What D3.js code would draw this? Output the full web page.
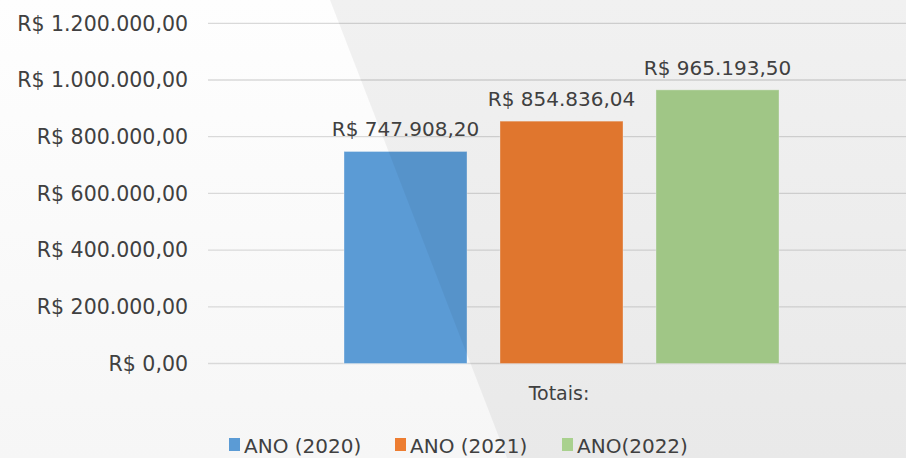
<!DOCTYPE html>
<html>
<head>
<meta charset="utf-8">
<script src="https://cdn.jsdelivr.net/npm/d3@7"></script>
<style>
  body { margin: 0; }
  svg { display: block; font-family: "DejaVu Sans", sans-serif; }
</style>
</head>
<body>
<div id="chart"></div>
<script>
// data
var category = "Totais:";
var series = ["ANO (2020)", "ANO (2021)", "ANO(2022)"];
var values = [747908.20, 854836.04, 965193.50];
var colors = ["#5b9bd5", "#ed7d31", "#a9d18e"];
var yTicks = [0, 200000, 400000, 600000, 800000, 1000000, 1200000];

var W = 906, H = 458;
var plot = {left: 208, right: 906, top: 23.3, bottom: 363.5};

var svg = d3.select("#chart")
    .append("svg")
    .attr("width", W)
    .attr("height", H);

var defs = svg.append("defs");
var bg = defs.append("linearGradient")
    .attr("id", "bg")
    .attr("x1", 0).attr("y1", 0).attr("x2", 0).attr("y2", 1);
bg.append("stop").attr("offset", "0%").attr("stop-color", "#fefefe");
bg.append("stop").attr("offset", "100%").attr("stop-color", "#f6f6f6");

svg.append("rect")
    .attr("width", W)
    .attr("height", H)
    .attr("fill", "url(#bg)");

var fmt = d3.formatLocale({decimal: ",", thousands: ".", grouping: [3], currency: ["R$ ", ""]})
    .format("$,.2f");

var y = d3.scaleLinear()
    .domain([0, 1200000])
    .range([plot.bottom, plot.top]);

// gridlines
svg.append("g")
    .selectAll("line")
    .data(yTicks)
    .enter()
    .append("line")
    .attr("x1", plot.left)
    .attr("x2", plot.right)
    .attr("y1", d => y(d))
    .attr("y2", d => y(d))
    .attr("stroke", "#d9d9d9")
    .attr("stroke-width", 1.3);

// y labels
svg.append("g")
    .selectAll("text")
    .data(yTicks)
    .enter()
    .append("text")
    .attr("x", 188)
    .attr("y", d => y(d))
    .attr("dy", "0.36em")
    .style("text-anchor", "end")
    .style("font-size", "20.5px")
    .style("fill", "#404040")
    .text(d => fmt(d));

// bars in the one category
var x = d3.scaleBand()
    .domain(series)
    .range([327.5, 795.5])
    .paddingInner(0.2115)
    .paddingOuter(0.1058);

svg.append("g")
    .selectAll("rect")
    .data(values)
    .enter()
    .append("rect")
    .attr("x", (d, i) => x(series[i]))
    .attr("width", x.bandwidth())
    .attr("y", d => y(d))
    .attr("height", d => y(0) - y(d))
    .attr("fill", (d, i) => colors[i])
    .attr("stroke", "#ffffff")
    .attr("stroke-opacity", 0.35)
    .attr("stroke-width", 1);

// the diagonal shade over the right part
svg.append("polygon")
    .attr("points", "330,0 906,0 906,458 507,458")
    .attr("fill", "#000")
    .attr("fill-opacity", 0.052);

// value labels
svg.append("g")
    .selectAll("text")
    .data(values)
    .enter()
    .append("text")
    .attr("x", (d, i) => x(series[i]) + x.bandwidth() / 2)
    .attr("y", d => y(d) - 15)
    .style("text-anchor", "middle")
    .style("font-size", "20px")
    .style("fill", "#404040")
    .text(d => fmt(d));

// category label
svg.append("text")
    .attr("x", 559)
    .attr("y", 400)
    .style("text-anchor", "middle")
    .style("font-size", "19px")
    .style("fill", "#404040")
    .text(category);

// legend
var legendX = [229, 395, 562];
var legend = svg.append("g")
    .selectAll("g")
    .data(series)
    .enter()
    .append("g")
    .attr("transform", (d, i) => "translate(" + legendX[i] + ",438)");

legend.append("rect")
    .attr("width", 11)
    .attr("height", 13)
    .attr("fill", (d, i) => colors[i]);

legend.append("text")
    .attr("x", 15)
    .attr("y", 14.5)
    .style("font-size", "20px")
    .style("fill", "#404040")
    .text(d => d);
</script>
</body>
</html>
